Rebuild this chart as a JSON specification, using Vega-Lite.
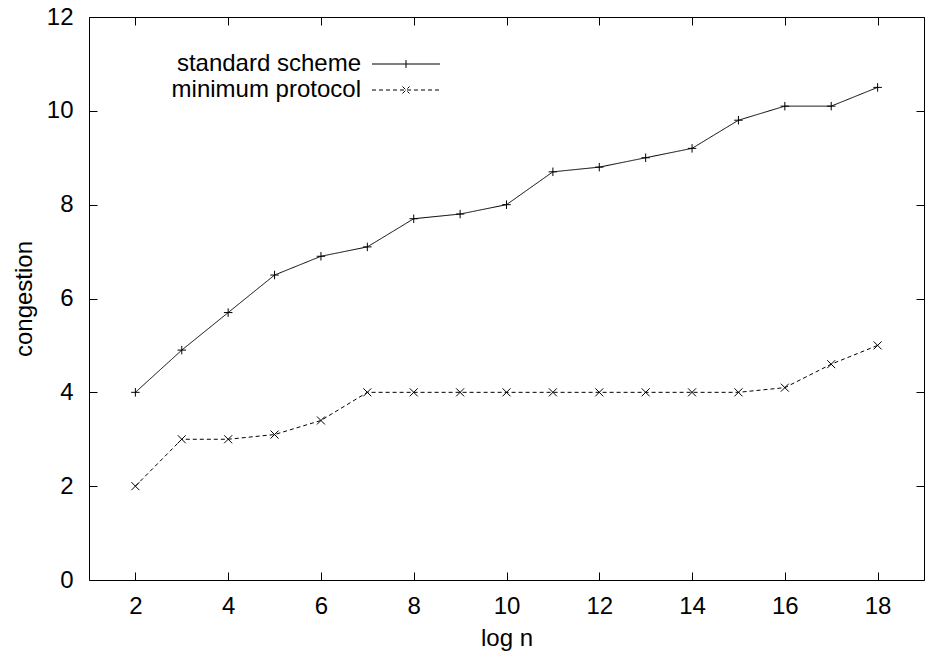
{
  "$schema": "https://vega.github.io/schema/vega-lite/v6.json",
  "width": 835,
  "height": 563,
  "autosize": {"type": "none"},
  "padding": {"left": 89, "top": 17, "right": 8, "bottom": 77},
  "background": "white",
  "config": {
    "font": "Liberation Sans",
    "view": {"stroke": "black", "strokeWidth": 1},
    "axis": {
      "domain": false,
      "grid": false,
      "tickColor": "black",
      "tickSize": -8,
      "tickWidth": 1,
      "labelFont": "Liberation Sans",
      "labelFontSize": 24,
      "labelColor": "black",
      "titleFont": "Liberation Sans",
      "titleFontSize": 24,
      "titleFontWeight": "normal",
      "titleColor": "black"
    },
    "legend": {
      "labelFont": "Liberation Sans",
      "labelFontSize": 24,
      "labelColor": "black",
      "labelLimit": 0
    }
  },
  "data": {
    "values": [
      {"logn": 2, "congestion": 4.0, "series": "standard scheme"},
      {"logn": 3, "congestion": 4.9, "series": "standard scheme"},
      {"logn": 4, "congestion": 5.7, "series": "standard scheme"},
      {"logn": 5, "congestion": 6.5, "series": "standard scheme"},
      {"logn": 6, "congestion": 6.9, "series": "standard scheme"},
      {"logn": 7, "congestion": 7.1, "series": "standard scheme"},
      {"logn": 8, "congestion": 7.7, "series": "standard scheme"},
      {"logn": 9, "congestion": 7.8, "series": "standard scheme"},
      {"logn": 10, "congestion": 8.0, "series": "standard scheme"},
      {"logn": 11, "congestion": 8.7, "series": "standard scheme"},
      {"logn": 12, "congestion": 8.8, "series": "standard scheme"},
      {"logn": 13, "congestion": 9.0, "series": "standard scheme"},
      {"logn": 14, "congestion": 9.2, "series": "standard scheme"},
      {"logn": 15, "congestion": 9.8, "series": "standard scheme"},
      {"logn": 16, "congestion": 10.1, "series": "standard scheme"},
      {"logn": 17, "congestion": 10.1, "series": "standard scheme"},
      {"logn": 18, "congestion": 10.5, "series": "standard scheme"},
      {"logn": 2, "congestion": 2.0, "series": "minimum protocol"},
      {"logn": 3, "congestion": 3.0, "series": "minimum protocol"},
      {"logn": 4, "congestion": 3.0, "series": "minimum protocol"},
      {"logn": 5, "congestion": 3.1, "series": "minimum protocol"},
      {"logn": 6, "congestion": 3.4, "series": "minimum protocol"},
      {"logn": 7, "congestion": 4.0, "series": "minimum protocol"},
      {"logn": 8, "congestion": 4.0, "series": "minimum protocol"},
      {"logn": 9, "congestion": 4.0, "series": "minimum protocol"},
      {"logn": 10, "congestion": 4.0, "series": "minimum protocol"},
      {"logn": 11, "congestion": 4.0, "series": "minimum protocol"},
      {"logn": 12, "congestion": 4.0, "series": "minimum protocol"},
      {"logn": 13, "congestion": 4.0, "series": "minimum protocol"},
      {"logn": 14, "congestion": 4.0, "series": "minimum protocol"},
      {"logn": 15, "congestion": 4.0, "series": "minimum protocol"},
      {"logn": 16, "congestion": 4.1, "series": "minimum protocol"},
      {"logn": 17, "congestion": 4.6, "series": "minimum protocol"},
      {"logn": 18, "congestion": 5.0, "series": "minimum protocol"}
    ]
  },
  "resolve": {"axis": {"x": "independent", "y": "independent"}},
  "layer": [
    {
      "mark": {"type": "line", "color": "black", "strokeWidth": 1},
      "encoding": {
        "x": {
          "field": "logn", "type": "quantitative",
          "scale": {"domain": [1, 19], "nice": false, "zero": false},
          "axis": {"title": "log n", "values": [2, 4, 6, 8, 10, 12, 14, 16, 18], "labelPadding": 22, "titlePadding": 8}
        },
        "y": {
          "field": "congestion", "type": "quantitative",
          "scale": {"domain": [0, 12], "nice": false},
          "axis": {"title": "congestion", "values": [0, 2, 4, 6, 8, 10, 12], "labelPadding": 24, "titlePadding": 10}
        },
        "strokeDash": {
          "field": "series", "type": "nominal",
          "scale": {"domain": ["standard scheme", "minimum protocol"], "range": [[1, 0], [4, 3]]},
          "legend": {
            "title": null,
            "orient": "none",
            "legendX": 305,
            "legendY": 35,
            "padding": 0,
            "rowPadding": 2,
            "symbolSize": 100,
            "symbolStrokeColor": "black",
            "symbolFillColor": "transparent",
            "symbolStrokeWidth": 1,
            "labelAlign": "right",
            "labelOffset": -57,
            "labelLimit": 0,
            "encode": {
              "symbols": {
                "update": {
                  "shape": {"signal": "datum.value === 'standard scheme' ? 'M-6.8,0H6.8M0,-0.8V0.8' : 'M-6.8,0H6.8M-0.7,-0.7L0.7,0.7M-0.7,0.7L0.7,-0.7'"}
                }
              }
            }
          }
        }
      }
    },
    {
      "transform": [{"filter": "datum.series === 'standard scheme'"}],
      "mark": {"type": "point", "filled": false, "stroke": "black", "strokeWidth": 1, "opacity": 1, "shape": "M-1,0H1M0,-1V1", "size": 72},
      "encoding": {
        "x": {
          "field": "logn", "type": "quantitative",
          "scale": {"domain": [1, 19], "nice": false, "zero": false},
          "axis": {"orient": "top", "title": null, "labels": false, "values": [2, 4, 6, 8, 10, 12, 14, 16, 18]}
        },
        "y": {
          "field": "congestion", "type": "quantitative",
          "scale": {"domain": [0, 12], "nice": false},
          "axis": {"orient": "right", "title": null, "labels": false, "values": [0, 2, 4, 6, 8, 10, 12]}
        }
      }
    },
    {
      "transform": [{"filter": "datum.series === 'minimum protocol'"}],
      "mark": {"type": "point", "filled": false, "stroke": "black", "strokeWidth": 1, "opacity": 1, "shape": "M-1,-1L1,1M-1,1L1,-1", "size": 64},
      "encoding": {
        "x": {
          "field": "logn", "type": "quantitative",
          "scale": {"domain": [1, 19], "nice": false, "zero": false},
          "axis": null
        },
        "y": {
          "field": "congestion", "type": "quantitative",
          "scale": {"domain": [0, 12], "nice": false},
          "axis": null
        }
      }
    }
  ]
}
